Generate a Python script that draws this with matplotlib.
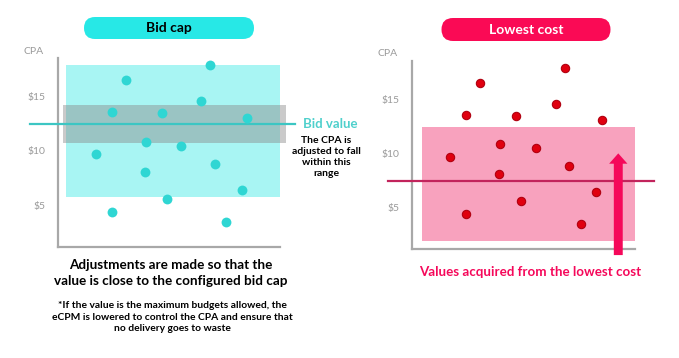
import matplotlib.pyplot as plt
from matplotlib.patches import Rectangle, FancyBboxPatch

plt.rcParams['font.family'] = ['Lato', 'DejaVu Sans']

# CPA samples (same points in both panels)
x_pts = [1.70, 2.43, 2.43, 3.06, 3.90, 3.96, 4.68, 4.90, 5.54, 6.45, 6.85, 7.06, 7.57, 8.27, 8.51]
cpa = [9.70, 4.38, 13.55, 16.45, 8.10, 10.85, 13.42, 5.60, 10.49, 14.52, 17.86, 8.83, 3.49, 6.42, 13.03]

yticks = [5, 10, 15]
ytick_labels = [r"\$5", r"\$10", r"\$15"]

# bid cap panel
bid_range = (0.36, 10.0, 5.75, 17.83)     # x0, x1, y0, y1
adjust_band = (0.24, 10.26, 10.71, 14.22)
bid_value = 12.45

# lowest cost panel
low_range = (0.44, 10.08, 1.93, 12.39)
low_line = 7.46
arrow_x, arrow_from, arrow_to = 9.25, 0.64, 10.0

W, H = 679, 358
fig = plt.figure(figsize=(W / 100, H / 100), dpi=100)


def setup(ax):
    ax.set_xlim(0, 10)
    ax.set_ylim(1.2, 18.5)
    ax.set_facecolor('none')
    for s in ['top', 'right']:
        ax.spines[s].set_visible(False)
    for s in ['left', 'bottom']:
        ax.spines[s].set_color('#a8a8a8')
        ax.spines[s].set_linewidth(1.6)
    ax.set_xticks([])
    ax.set_yticks(yticks)
    ax.set_yticklabels(ytick_labels)
    ax.tick_params(axis='y', length=0, pad=9, labelsize=7.5, labelcolor='#9a9a9a')


# ---- left: bid cap
ax1 = fig.add_axes([58 / W, 1 - 247 / H, 222 / W, 189 / H])
setup(ax1)
x0, x1, y0, y1 = bid_range
ax1.add_patch(Rectangle((x0, y0), x1 - x0, y1 - y0, color='#a8f5f3', zorder=1, lw=0))
x0, x1, y0, y1 = adjust_band
ax1.add_patch(Rectangle((x0, y0), x1 - x0, y1 - y0, color='#8a8a8a', alpha=0.45,
                        zorder=2, lw=0, clip_on=False))
ax1.plot([-1.26, 10.68], [bid_value, bid_value], color='#3cc6c3', lw=1.6,
         zorder=3, clip_on=False)
ax1.scatter(x_pts, cpa, s=50, color='#2fd6d3', zorder=4, lw=0)

# ---- right: lowest cost
ax2 = fig.add_axes([412 / W, 1 - 249 / H, 223 / W, 188 / H])
setup(ax2)
x0, x1, y0, y1 = low_range
ax2.add_patch(Rectangle((x0, y0), x1 - x0, y1 - y0, color='#f8a2be', zorder=1, lw=0))
ax2.plot([-1.09, 10.83], [low_line, low_line], color='#c2245c', lw=1.6,
         zorder=3, clip_on=False)
ax2.scatter(x_pts, cpa, s=36, color='#e0000f', edgecolor='#b00010', lw=0.8, zorder=4)
ax2.arrow(arrow_x, arrow_from, 0, arrow_to - arrow_from, width=0.40, head_width=0.82,
          head_length=0.95, length_includes_head=True, color='#f5085a', lw=0,
          zorder=5, clip_on=False)

# ---- overlay in pixel coordinates for titles and notes
ov = fig.add_axes([0, 0, 1, 1])
ov.set_xlim(0, W)
ov.set_ylim(0, H)
ov.axis('off')


def pill(xa, xb, ya, yb, fc, label, tc):
    r = (yb - ya) / 2
    ov.add_patch(FancyBboxPatch((xa + r, H - yb), xb - xa - 2 * r, yb - ya,
                                boxstyle=f"round,pad=0,rounding_size={r}",
                                fc=fc, ec='none', mutation_aspect=1))
    ov.text((xa + xb) / 2, H - (ya + yb) / 2, label, ha='center', va='center',
            fontsize=10, fontweight='bold', color=tc)


pill(73, 265, 17, 39, '#27e8e6', 'Bid cap', 'black')
pill(430, 622, 18, 41, '#fa0a55', 'Lowest cost', 'white')

for px, py in [(34, 52), (388, 54)]:
    ov.text(px, H - py, 'CPA', ha='center', va='center', fontsize=7.5, color='#9a9a9a')

ov.text(303, H - 124, 'Bid value', ha='left', va='center', fontsize=9.5,
        color='#4fd0cc', fontweight='bold')
ov.text(326, H - 157, 'The CPA is\nadjusted to fall\nwithin this\nrange', ha='center',
        va='center', fontsize=7.5, fontweight='bold', color='black', linespacing=1.3)

ov.text(171, H - 273, 'Adjustments are made so that the\nvalue is close to the configured bid cap',
        ha='center', va='center', fontsize=9.7, fontweight='bold', color='black',
        linespacing=1.4)
ov.text(172, H - 317, '*If the value is the maximum budgets allowed, the\n'
        'eCPM is lowered to control the CPA and ensure that\nno delivery goes to waste',
        ha='center', va='center', fontsize=7.4, fontweight='bold', color='black',
        linespacing=1.4)
ov.text(530, H - 272, 'Values acquired from the lowest cost', ha='center', va='center',
        fontsize=9.6, fontweight='bold', color='#f5085a')

fig.savefig('out.png', dpi=100)
